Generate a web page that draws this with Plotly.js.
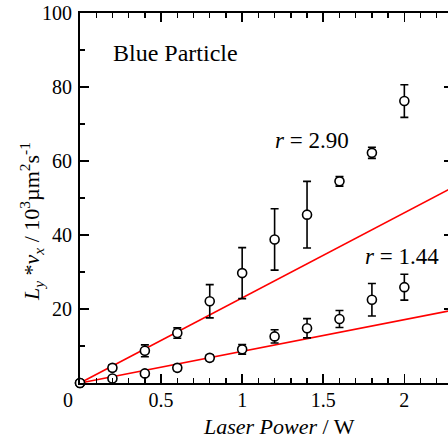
<!DOCTYPE html>
<html>
<head>
<meta charset="utf-8">
<script src="https://cdn.plot.ly/plotly-3.0.1.min.js"></script>
<style>
html,body{margin:0;padding:0;overflow:hidden;background:#fff;}
#chart{width:456px;height:439px;}
</style>
</head>
<body>
<div id="chart"></div>
<script>
// Data
const powerW = [0, 0.2, 0.4, 0.6, 0.8, 1.0, 1.2, 1.4, 1.6, 1.8, 2.0];
const upperVals = [0, 4.1, 8.7, 13.5, 22.1, 29.7, 38.8, 45.5, 54.5, 62.2, 76.2];
const upperErr = [0, 0.8, 1.6, 1.4, 4.5, 6.9, 8.3, 9.0, 1.3, 1.5, 4.4];
const lowerVals = [0, 1.2, 2.6, 4.1, 6.8, 9.1, 12.6, 14.8, 17.3, 22.5, 25.9];
const lowerErr = [0, 0.5, 0.6, 0.8, 0.8, 1.3, 1.8, 2.6, 2.3, 4.4, 3.5];
const fitX = [0, 2.3];
const fitUpper = [0, 52.9];
const fitLower = [0, 19.7];
const xTickVals = [0.5, 1, 1.5, 2];
const xTickText = ['0.5', '1', '1.5', '2'];
const yTickVals = [20, 40, 60, 80, 100];
const yTickText = ['20', '40', '60', '80', '100'];

const FONT = '"Liberation Serif", "Times New Roman", Times, serif';

const lineStyle = {color: '#ff0000', width: 1.6};
const markerStyle = {symbol: 'circle', size: 9, color: '#ffffff', line: {color: '#000000', width: 1.6}};
const errStyle = (arr) => ({type: 'data', array: arr, visible: true, color: '#000000', thickness: 1.6, width: 4});

const traces = [
  {x: fitX, y: fitUpper, mode: 'lines', line: lineStyle, hoverinfo: 'skip', showlegend: false},
  {x: fitX, y: fitLower, mode: 'lines', line: lineStyle, hoverinfo: 'skip', showlegend: false},
  {x: powerW, y: upperVals, mode: 'markers', marker: markerStyle, error_y: errStyle(upperErr), cliponaxis: false, showlegend: false},
  {x: powerW, y: lowerVals, mode: 'markers', marker: markerStyle, error_y: errStyle(lowerErr), cliponaxis: false, showlegend: false}
];

const axisCommon = {
  showline: true, linecolor: '#000', linewidth: 2, mirror: 'ticks',
  ticks: 'inside', ticklen: 9, tickwidth: 1.6, tickcolor: '#000',
  showgrid: false, zeroline: false,
  tickfont: {family: FONT, size: 20, color: '#000'},
};

const layout = {
  width: 456, height: 439,
  margin: {l: 80, r: 3, t: 13, b: 56},
  paper_bgcolor: '#fff', plot_bgcolor: '#fff',
  showlegend: false,
  xaxis: Object.assign({}, axisCommon, {
    range: [0, 2.3], tickmode: 'array', tickvals: xTickVals, ticktext: xTickText,
    minor: {dtick: 0.1, ticks: 'inside', ticklen: 5, tickwidth: 1.4, tickcolor: '#000', showgrid: false},
    ticklabelstandoff: -2
  }),
  yaxis: Object.assign({}, axisCommon, {
    range: [0, 100], tickmode: 'array', tickvals: yTickVals, ticktext: yTickText,
    minor: {dtick: 10, tick0: 0, ticks: 'inside', ticklen: 5, tickwidth: 1.4, tickcolor: '#000', showgrid: false},
    ticklabelstandoff: 2
  }),
  annotations: [
    {text: 'Blue Particle', x: 0.19, y: 89.3, xref: 'x', yref: 'y', xanchor: 'left', yanchor: 'middle', showarrow: false, font: {family: FONT, size: 24, color: '#000'}},
    {text: '<i>r</i> = 2.90', x: 1.43, y: 65.6, xref: 'x', yref: 'y', xanchor: 'center', yanchor: 'middle', showarrow: false, font: {family: FONT, size: 23, color: '#000'}},
    {text: '<i>r</i> = 1.44', x: 1.985, y: 34.3, xref: 'x', yref: 'y', xanchor: 'center', yanchor: 'middle', showarrow: false, font: {family: FONT, size: 23, color: '#000'}},
    {text: '0', x: 68 / 456, y: 1 - 400 / 439, xref: 'paper', yref: 'paper', xanchor: 'center', yanchor: 'middle', showarrow: false, font: {family: FONT, size: 20, color: '#000'}},
    {text: '<i>Laser Power</i> / W', x: 279 / 456, y: 1 - 427 / 439, xref: 'paper', yref: 'paper', xanchor: 'center', yanchor: 'middle', showarrow: false, font: {family: FONT, size: 22, color: '#000'}},
    {text: '<i>L</i><sub><i>y</i></sub> *<i>v</i><sub><i>x</i></sub> / 10<sup>3</sup>µm<sup>2</sup>s<sup>-1</sup>', x: 31 / 456, y: 1 - 222 / 439, xref: 'paper', yref: 'paper', xanchor: 'center', yanchor: 'middle', textangle: -90, showarrow: false, font: {family: FONT, size: 22, color: '#000'}}
  ]
};

// paper-referenced annotations were given as fractions of the whole figure; convert to plot-area fractions
(function fixPaper() {
  const W = layout.width, H = layout.height, m = layout.margin;
  const pw = W - m.l - m.r, ph = H - m.t - m.b;
  layout.annotations.forEach(a => {
    if (a.xref === 'paper') {
      const px = a.x * W; a.x = (px - m.l) / pw;
      const py = (1 - a.y) * H; a.y = 1 - (py - m.t) / ph;
    }
  });
})();

Plotly.newPlot('chart', traces, layout, {staticPlot: true, displayModeBar: false});
</script>
</body>
</html>
